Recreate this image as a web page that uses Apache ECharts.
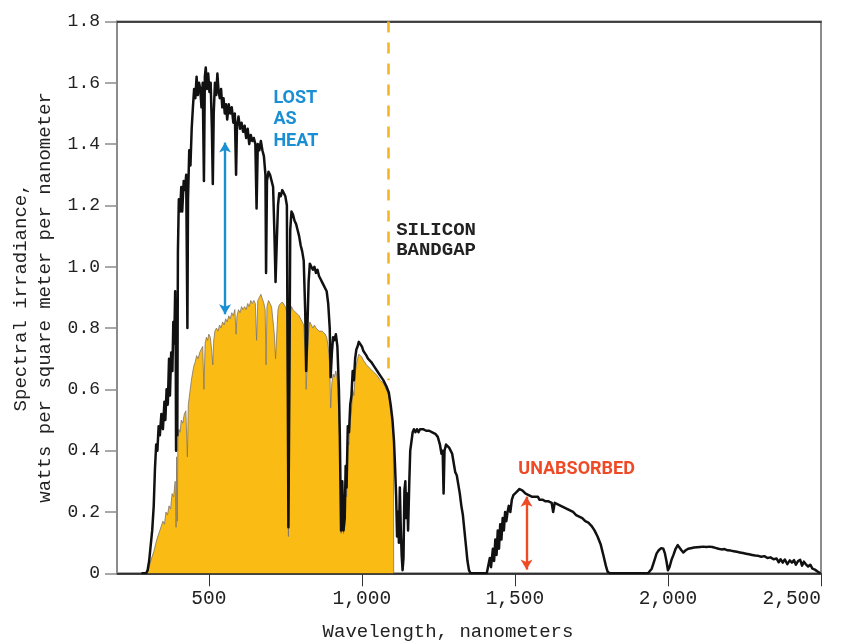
<!DOCTYPE html>
<html>
<head>
<meta charset="utf-8">
<script src="https://cdn.jsdelivr.net/npm/echarts@6/dist/echarts.min.js"></script>
<style>
html,body{margin:0;padding:0;background:#fff;}
#chart{width:841px;height:641px;}
</style>
</head>
<body>
<div id="chart"></div>
<script>
// ---- Data ----
// Total solar spectral irradiance (black line)
const spectrumWl = [280,295,300,305,310,315,320,324,328,332,336,340,345,350,355,358,362,366,370,373,377,381,384,387,390,392,393,395,397,399,402,406,410,413,418,422,426,430,432,436,440,444,448,452,456,460,464,468,472,476,480,484,487,490,494,498,502,506,510,513,516,520,524,528,532,536,540,544,548,552,556,560,565,570,575,580,585,589,592,597,602,607,612,617,622,627,632,637,642,647,652,656,660,665,670,675,680,685,687,690,695,700,705,710,714,718,722,726,730,735,740,745,750,755,758,760,763,766,770,775,780,785,790,795,800,805,810,815,818,822,826,830,835,840,845,850,855,860,865,870,875,880,885,890,895,898,902,906,910,915,920,925,928,932,936,940,944,947,950,954,958,962,966,970,974,978,982,986,990,995,1000,1005,1010,1015,1020,1030,1040,1050,1060,1070,1080,1088,1094,1100,1105,1108,1112,1115,1118,1121,1124,1127,1130,1133,1136,1139,1142,1145,1148,1151,1155,1158,1162,1166,1170,1175,1180,1185,1190,1195,1200,1210,1220,1230,1240,1248,1255,1260,1264,1267,1270,1275,1280,1285,1290,1295,1300,1305,1310,1315,1320,1325,1330,1335,1340,1345,1350,1355,1400,1408,1412,1418,1422,1428,1432,1436,1440,1444,1448,1452,1456,1460,1464,1468,1472,1476,1480,1485,1490,1495,1500,1505,1510,1515,1520,1525,1530,1535,1540,1545,1550,1555,1560,1565,1570,1575,1580,1585,1590,1595,1600,1610,1620,1625,1630,1640,1650,1660,1670,1680,1690,1700,1710,1720,1730,1740,1750,1760,1770,1780,1790,1797,1803,1810,1935,1940,1947,1955,1963,1970,1978,1985,1990,1995,2000,2005,2012,2018,2025,2032,2038,2044,2050,2058,2066,2075,2085,2095,2105,2115,2125,2135,2145,2155,2165,2175,2185,2195,2205,2215,2225,2235,2245,2255,2265,2275,2285,2295,2305,2315,2325,2335,2345,2355,2362,2368,2375,2382,2390,2398,2405,2412,2418,2425,2432,2438,2444,2450,2458,2465,2472,2480,2490,2498];
const spectrumVal = [0,0,0.01,0.04,0.09,0.14,0.22,0.34,0.42,0.40,0.48,0.45,0.52,0.47,0.56,0.50,0.60,0.55,0.70,0.58,0.72,0.66,0.82,0.75,0.92,0.70,0.40,0.85,0.45,1.05,1.22,1.18,1.26,1.18,1.28,1.25,1.30,0.80,1.22,1.38,1.33,1.45,1.52,1.58,1.55,1.62,1.56,1.60,1.58,1.52,1.60,1.28,1.62,1.65,1.58,1.63,1.57,1.60,1.45,1.27,1.50,1.60,1.56,1.63,1.57,1.55,1.58,1.52,1.55,1.50,1.53,1.48,1.53,1.50,1.52,1.47,1.50,1.30,1.46,1.49,1.45,1.47,1.44,1.46,1.42,1.45,1.40,1.43,1.41,1.42,1.40,1.19,1.40,1.38,1.41,1.38,1.36,1.30,0.98,1.28,1.31,1.30,1.28,1.26,1.12,0.95,1.08,1.20,1.24,1.23,1.25,1.24,1.23,1.20,0.60,0.15,0.60,1.12,1.18,1.17,1.15,1.14,1.12,1.10,1.07,1.05,1.02,0.85,0.66,0.80,0.95,1.01,1.00,0.99,1.00,0.98,0.99,0.97,0.96,0.95,0.94,0.93,0.92,0.88,0.80,0.64,0.72,0.77,0.76,0.78,0.74,0.60,0.45,0.14,0.30,0.14,0.18,0.35,0.28,0.48,0.46,0.55,0.58,0.66,0.63,0.70,0.73,0.74,0.755,0.75,0.74,0.725,0.72,0.71,0.70,0.69,0.675,0.66,0.645,0.63,0.61,0.59,0.55,0.50,0.43,0.36,0.25,0.12,0.20,0.10,0.28,0.15,0.06,0.01,0.05,0.27,0.30,0.18,0.26,0.14,0.30,0.40,0.43,0.46,0.47,0.46,0.47,0.46,0.47,0.465,0.47,0.465,0.465,0.46,0.455,0.445,0.42,0.39,0.40,0.26,0.40,0.42,0.42,0.41,0.40,0.39,0.36,0.33,0.32,0.29,0.26,0.22,0.19,0.14,0.09,0.04,0.01,0,0,0,0.02,0.05,0.02,0.08,0.04,0.11,0.06,0.14,0.08,0.16,0.11,0.18,0.14,0.20,0.17,0.20,0.22,0.20,0.24,0.255,0.26,0.265,0.27,0.275,0.27,0.27,0.265,0.26,0.265,0.255,0.26,0.25,0.255,0.25,0.245,0.25,0.24,0.245,0.24,0.24,0.235,0.235,0.23,0.20,0.23,0.225,0.22,0.215,0.21,0.205,0.20,0.19,0.185,0.18,0.17,0.165,0.155,0.14,0.12,0.095,0.055,0.025,0.005,0,0,0.005,0.015,0.04,0.065,0.075,0.082,0.08,0.065,0.04,0.01,0.02,0.045,0.06,0.08,0.092,0.088,0.075,0.068,0.075,0.08,0.082,0.084,0.085,0.086,0.087,0.086,0.087,0.086,0.083,0.080,0.078,0.079,0.075,0.074,0.072,0.070,0.068,0.066,0.064,0.062,0.060,0.058,0.057,0.054,0.056,0.050,0.052,0.046,0.048,0.036,0.046,0.035,0.045,0.030,0.042,0.035,0.043,0.028,0.040,0.044,0.025,0.038,0.030,0.022,0.028,0.015,0.012,0.005,0];

// Portion usable by silicon (yellow area)
const usableWl = [300,305,310,320,330,340,350,355,360,365,370,375,380,385,390,393,395,397,399,402,406,410,415,420,425,430,433,438,443,448,452,456,460,465,470,475,480,484,488,492,496,500,505,510,513,516,520,525,530,535,540,545,550,555,560,565,570,575,580,585,589,592,597,602,607,612,617,622,627,632,637,642,647,652,656,660,665,670,675,680,684,687,690,695,700,705,710,714,718,722,726,730,735,740,745,750,755,758,760,763,766,770,775,780,785,790,795,800,805,810,815,818,822,826,830,835,840,845,850,855,860,865,870,875,880,885,890,895,898,902,906,910,915,920,925,928,932,936,940,944,947,950,954,958,962,966,970,974,978,982,986,990,995,1000,1005,1010,1015,1020,1030,1040,1050,1060,1070,1080,1088,1094,1100,1103,1104];
const usableVal = [0,0.02,0.04,0.07,0.11,0.14,0.17,0.16,0.20,0.19,0.22,0.21,0.26,0.25,0.30,0.15,0.38,0.17,0.44,0.47,0.46,0.50,0.49,0.52,0.53,0.38,0.55,0.59,0.63,0.66,0.68,0.69,0.71,0.70,0.72,0.72,0.74,0.60,0.75,0.77,0.76,0.78,0.77,0.72,0.68,0.76,0.79,0.80,0.79,0.81,0.80,0.82,0.81,0.83,0.82,0.84,0.83,0.85,0.84,0.86,0.78,0.84,0.86,0.85,0.87,0.86,0.87,0.86,0.88,0.87,0.89,0.88,0.89,0.88,0.76,0.89,0.90,0.91,0.895,0.88,0.86,0.68,0.87,0.89,0.88,0.87,0.87,0.78,0.70,0.78,0.86,0.875,0.88,0.885,0.88,0.87,0.85,0.45,0.12,0.45,0.84,0.87,0.86,0.86,0.85,0.85,0.84,0.83,0.82,0.81,0.72,0.60,0.70,0.79,0.82,0.81,0.80,0.81,0.80,0.80,0.79,0.79,0.79,0.785,0.78,0.77,0.74,0.68,0.54,0.62,0.65,0.64,0.66,0.63,0.52,0.40,0.13,0.26,0.13,0.16,0.31,0.25,0.43,0.42,0.50,0.53,0.60,0.58,0.65,0.68,0.70,0.715,0.71,0.705,0.695,0.69,0.68,0.675,0.665,0.655,0.645,0.63,0.62,0.60,0.58,0.54,0.49,0.45,0];

// Axis ticks
const xTickValues = [500, 1000, 1500, 2000, 2500];
const xTickLabels = ['500', '1,000', '1,500', '2,000', '2,500'];
const yTickValues = [0, 0.2, 0.4, 0.6, 0.8, 1.0, 1.2, 1.4, 1.6, 1.8];
const yTickLabels = ['0', '0.2', '0.4', '0.6', '0.8', '1.0', '1.2', '1.4', '1.6', '1.8'];

// Annotations (data units)
const bandgapNm = 1085;
const bandgapLineTop = 1.8;
const bandgapLineBottom = 0.63;
const heatArrowNm = 553, heatArrowTop = 1.405, heatArrowBottom = 0.845;
const unabsArrowNm = 1538, unabsArrowTop = 0.25, unabsArrowBottom = 0.012;
const heatLabelAt = [711, 1.585];
const bandgapLabelAt = [1112, 1.152];
const unabsLabelAt = [1511, 0.368];

const MONO = '"Liberation Mono", "DejaVu Sans Mono", monospace';
const SANS = 'Roboto, "Liberation Sans", sans-serif';

const chart = echarts.init(document.getElementById('chart'), null, {renderer: 'canvas'});

const spectrumData = spectrumWl.map((w, i) => [w, spectrumVal[i]]);
const usableData = usableWl.map((w, i) => [w, usableVal[i]]);

const option = {
  animation: false,
  backgroundColor: '#fff',
  grid: {left: 117, right: 20, top: 21.5, bottom: 67.7, show: true, borderColor: '#8c8c8c', borderWidth: 2,
    containLabel: false, outerBoundsMode: 'none'},
  xAxis: [{
    type: 'value', min: 200, max: 2500, position: 'bottom',
    name: 'Wavelength, nanometers', nameLocation: 'middle', nameGap: 49,
    nameTextStyle: {fontFamily: MONO, fontSize: 19, color: '#222', padding: [0, 42, 0, 0]},
    axisLine: {show: true, lineStyle: {color: '#111', width: 1.5}},
    axisTick: {show: true, customValues: xTickValues, length: 13, lineStyle: {color: '#333', width: 1}},
    axisLabel: {show: true, customValues: xTickValues, fontFamily: MONO, fontSize: 19.5, color: '#222', margin: 16,
      alignMaxLabel: 'right',
      formatter: v => xTickLabels[xTickValues.indexOf(v)] ?? ''},
    splitLine: {show: false}
  }, {
    type: 'value', min: 200, max: 2500, position: 'top',
    axisLine: {show: true, lineStyle: {color: '#222', width: 1.5}},
    axisTick: {show: false}, axisLabel: {show: false}, splitLine: {show: false}
  }],
  yAxis: {
    type: 'value', min: 0, max: 1.8, interval: 0.2,
    name: 'Spectral irradiance,\nwatts per square meter per nanometer',
    nameLocation: 'middle', nameRotate: 90, nameGap: 60,
    nameTextStyle: {fontFamily: MONO, fontSize: 19, color: '#222', lineHeight: 24},
    axisLine: {show: true, lineStyle: {color: '#8c8c8c', width: 2}},
    axisTick: {show: true, length: 12, lineStyle: {color: '#8c8c8c', width: 1.5}},
    axisLabel: {fontFamily: MONO, fontSize: 18, color: '#222', margin: 17,
      formatter: v => { const i = yTickValues.findIndex(t => Math.abs(t - v) < 1e-6); return i >= 0 ? yTickLabels[i] : ''; }},
    splitLine: {show: false}
  },
  series: [{
    name: 'usable', type: 'line', data: usableData, showSymbol: false, symbol: 'none',
    lineStyle: {color: '#7d7468', width: 0.8},
    areaStyle: {color: '#FABB15', opacity: 1},
    z: 2, silent: true
  }, {
    name: 'spectrum', type: 'line', data: spectrumData, showSymbol: false, symbol: 'none',
    lineStyle: {color: '#111', width: 2.5, join: 'round'},
    z: 3, silent: true,
    markLine: {
      silent: true, animation: false,
      label: {show: false},
      emphasis: {disabled: true},
      data: [
        [{coord: [bandgapNm, bandgapLineTop], symbol: 'none', lineStyle: {color: '#F7B523', width: 2.6, type: [11, 10]}},
         {coord: [bandgapNm, bandgapLineBottom], symbol: 'none'}],
        [{coord: [heatArrowNm, heatArrowTop], symbol: 'arrow', symbolSize: [9, 10], lineStyle: {color: '#1B8FD4', width: 2.4, type: 'solid'}},
         {coord: [heatArrowNm, heatArrowBottom], symbol: 'arrow', symbolSize: [9, 10]}],
        [{coord: [unabsArrowNm, unabsArrowTop], symbol: 'arrow', symbolSize: [9, 10], lineStyle: {color: '#EE4A26', width: 2.4, type: 'solid'}},
         {coord: [unabsArrowNm, unabsArrowBottom], symbol: 'arrow', symbolSize: [9, 10]}]
      ]
    }
  }]
};
chart.setOption(option);

function addLabels() {
  const p1 = chart.convertToPixel({gridIndex: 0}, heatLabelAt);
  const p2 = chart.convertToPixel({gridIndex: 0}, bandgapLabelAt);
  const p3 = chart.convertToPixel({gridIndex: 0}, unabsLabelAt);
  chart.setOption({graphic: [
    {type: 'text', x: p1[0], y: p1[1], silent: true, style: {text: 'LOST\nAS\nHEAT', fill: '#1B8FD4', font: 'bold 18px ' + SANS, lineHeight: 21.7, textAlign: 'left', textVerticalAlign: 'top'}},
    {type: 'text', x: p2[0], y: p2[1], silent: true, style: {text: 'SILICON\nBANDGAP', fill: '#222', font: 'bold 19px ' + MONO, lineHeight: 20, textAlign: 'left', textVerticalAlign: 'top'}},
    {type: 'text', x: p3[0], y: p3[1], silent: true, style: {text: 'UNABSORBED', fill: '#EE4A26', font: 'bold 18px ' + SANS, textAlign: 'left', textVerticalAlign: 'top'}}
  ]});
}
addLabels();
</script>
</body>
</html>
